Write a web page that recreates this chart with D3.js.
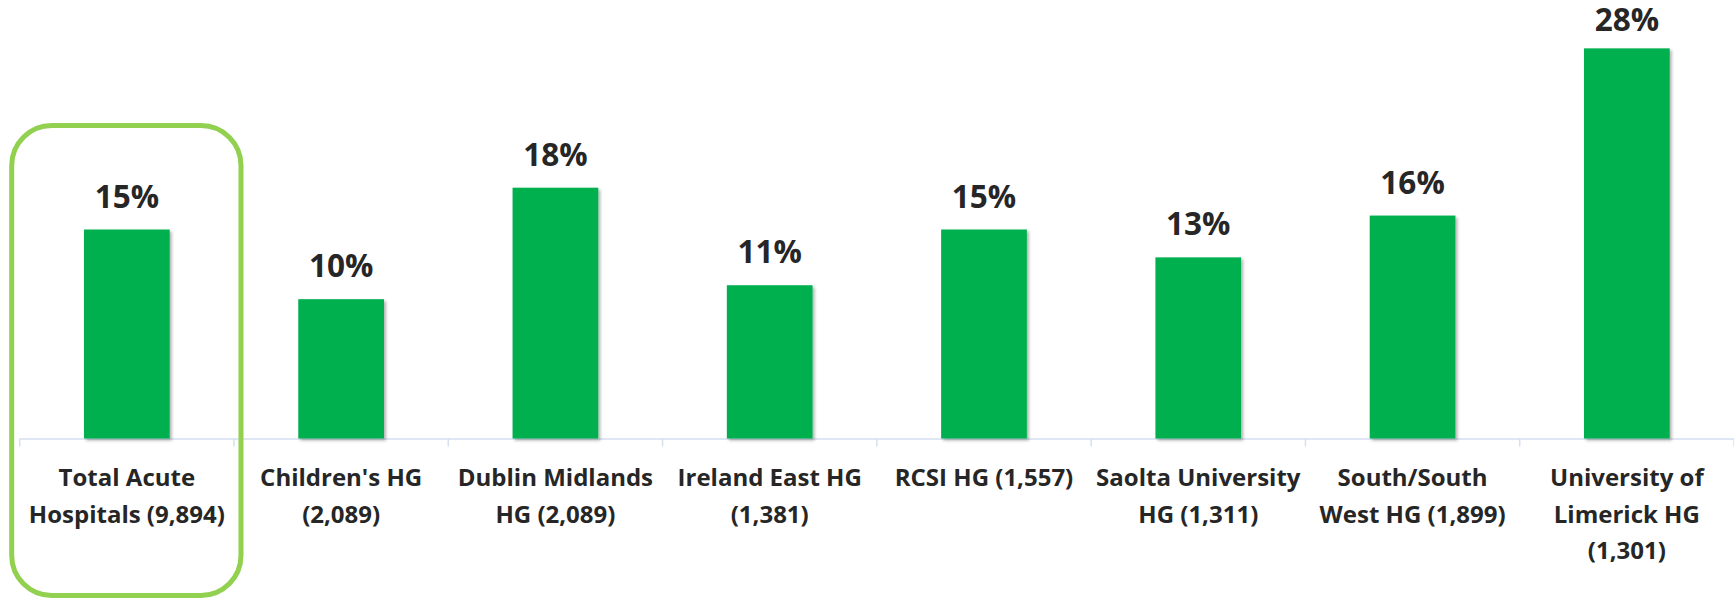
<!DOCTYPE html>
<html>
  <head>
    <style>
    body {
      margin: 0;
      background: #fff;
    }
    </style>
  </head>
  <body>
    <script src="https://d3js.org/d3.v7.min.js"></script>
    <script>
    var width = 1734, height = 601;

    // categories, one entry per line of the wrapped axis label
    var categories = [
      ["Total Acute", "Hospitals (9,894)"],
      ["Children's HG", "(2,089)"],
      ["Dublin Midlands", "HG (2,089)"],
      ["Ireland East HG", "(1,381)"],
      ["RCSI HG (1,557)"],
      ["Saolta University", "HG (1,311)"],
      ["South/South", "West HG (1,899)"],
      ["University of", "Limerick HG", "(1,301)"]
    ];
    var values = [0.15, 0.10, 0.18, 0.11, 0.15, 0.13, 0.16, 0.28];
    var highlighted = 0; // the group ringed in green

    var keys = categories.map(function(d) { return d.join(" "); });

    var x = d3.scaleBand()
        .domain(keys)
        .range([19.7, 1734])
        .paddingInner(0.6)
        .paddingOuter(0.3);

    var y = d3.scaleLinear()
        .domain([0, 0.30])
        .range([438.5, 20.5]);

    var svg = d3.select("body").append("svg")
        .attr("width", width)
        .attr("height", height);

    var defs = svg.append("defs");
    var shadow = defs.append("filter")
        .attr("id", "shadow")
        .attr("x", "-10%").attr("y", "-10%")
        .attr("width", "130%").attr("height", "130%");
    shadow.append("feDropShadow")
        .attr("dx", 2).attr("dy", 2)
        .attr("stdDeviation", 1.5)
        .attr("flood-color", "#000")
        .attr("flood-opacity", 0.3);

    // category axis
    var axis = d3.axisBottom(x)
        .tickSize(0)
        .tickFormat("");

    var gx = svg.append("g")
        .attr("transform", "translate(0," + y(0) + ")")
        .call(axis);
    gx.select(".domain")
        .attr("stroke", "#d5dff0")
        .attr("stroke-width", 1.5);

    // boundary ticks between categories
    var step = x.step();
    var bounds = d3.range(keys.length + 1).map(function(i) { return x.range()[0] + i * step; });
    gx.selectAll(".bound")
        .data(bounds)
      .enter().append("line")
        .attr("class", "bound")
        .attr("x1", function(d) { return d; })
        .attr("x2", function(d) { return d; })
        .attr("y1", 0)
        .attr("y2", 8)
        .attr("stroke", "#d5dff0")
        .attr("stroke-width", 1.5);

    // bars
    svg.selectAll(".bar")
        .data(values)
      .enter().append("rect")
        .attr("class", "bar")
        .attr("x", function(d, i) { return x(keys[i]); })
        .attr("y", function(d) { return y(d); })
        .attr("width", x.bandwidth())
        .attr("height", function(d) { return y(0) - y(d); })
        .attr("fill", "#00b050")
        .attr("filter", "url(#shadow)");

    // value labels (pushed down a little when they would leave the top)
    svg.selectAll(".value")
        .data(values)
      .enter().append("text")
        .attr("class", "value")
        .attr("x", function(d, i) { return x(keys[i]) + x.bandwidth() / 2; })
        .attr("y", function(d) { return Math.max(y(d) - 22, 31); })
        .attr("text-anchor", "middle")
        .style("font-family", "'Open Sans', sans-serif")
        .style("font-weight", "bold")
        .style("font-size", "31.5px")
        .attr("fill", "#262626")
        .text(d3.format(".0%"));

    // category labels
    var labels = svg.selectAll(".cat")
        .data(categories)
      .enter().append("text")
        .attr("class", "cat")
        .attr("text-anchor", "middle")
        .style("font-family", "'Open Sans', sans-serif")
        .style("font-weight", "bold")
        .style("font-size", "24px")
        .attr("fill", "#262626");

    labels.selectAll("tspan")
        .data(function(d, i) { return d.map(function(line) { return { line: line, i: i }; }); })
      .enter().append("tspan")
        .attr("x", function(d) { return x(keys[d.i]) + x.bandwidth() / 2; })
        .attr("y", function(d, j) { return 486 + j * 36.5; })
        .text(function(d) { return d.line; });

    // green highlight frame round the total
    var hx = x.range()[0] + highlighted * step;
    svg.append("rect")
        .attr("x", hx - 8)
        .attr("y", 125.5)
        .attr("width", step + 15)
        .attr("height", 470)
        .attr("rx", 40)
        .attr("ry", 40)
        .attr("fill", "none")
        .attr("stroke", "#92d050")
        .attr("stroke-width", 5);
    </script>
  </body>
</html>
